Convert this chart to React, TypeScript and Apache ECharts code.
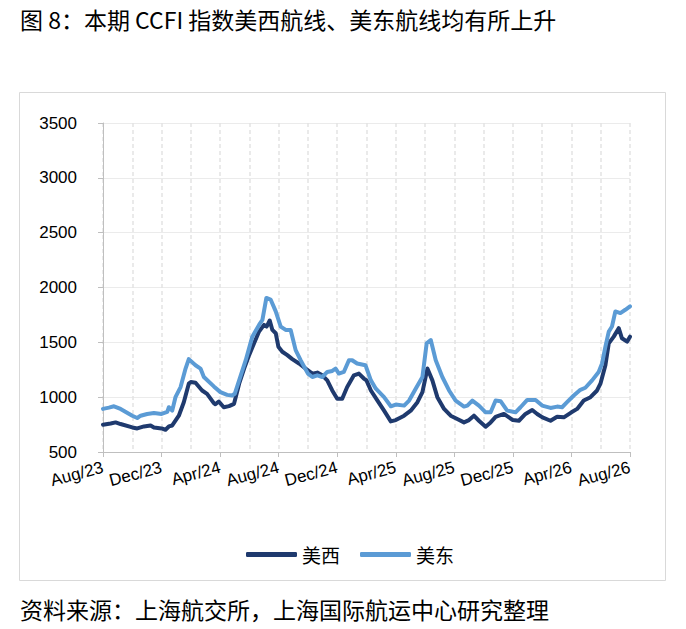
import React, { useEffect, useRef } from "react";
import * as echarts from "echarts";

// months elapsed since 1 Aug 2023
const westMonths = [
  0.0, 0.52, 0.86, 1.2, 2.0, 2.34, 2.8, 3.25, 3.48, 4.0, 4.27, 4.5, 4.73, 5.18, 5.52, 5.86, 6.0, 6.32, 6.77, 7.11,
  7.57, 7.68, 7.91, 8.25, 8.61, 8.95, 9.3, 9.64, 9.98, 10.32, 10.66, 11.0, 11.18, 11.39, 11.57, 11.8, 11.98, 12.25,
  12.59, 12.93, 13.39, 14.0, 14.3, 14.64, 14.98, 15.32, 15.66, 16.0, 16.34, 16.68, 17.14, 17.48, 17.82, 18.0, 18.3,
  18.75, 19.2, 19.66, 20.0, 20.57, 21.02, 21.48, 21.82, 22.16, 22.5, 22.84, 23.3, 23.75, 24.2, 24.66, 25.0, 25.34,
  25.68, 26.14, 26.48, 26.82, 27.05, 27.39, 27.73, 28.0, 28.41, 28.86, 29.32, 29.66, 30.02, 30.57, 31.02, 31.48,
  32.0, 32.39, 32.84, 33.3, 33.75, 33.98, 34.32, 34.55, 34.89, 35.23, 35.45, 35.8, 36.0,
];
const westValues = [
  749, 760, 770, 755, 724, 715, 733, 742, 724, 715, 703, 733, 742, 831, 954, 1123, 1138, 1132, 1061, 1030,
  945, 935, 960, 908, 918, 939, 1123, 1261, 1383, 1491, 1598, 1659, 1644, 1699, 1613, 1583, 1460, 1414,
  1383, 1347, 1307, 1245, 1215, 1224, 1199, 1153, 1061, 985, 985, 1092, 1199, 1215, 1170, 1153, 1061,
  969, 877, 779, 791, 831, 877, 954, 1046, 1261, 1153, 1000, 893, 831, 801, 770, 791, 831,
  785, 730, 770, 820, 831, 847, 816, 791, 785, 847, 883, 847, 816, 785, 822, 816,
  862, 893, 969, 1000, 1061, 1123, 1291, 1491, 1552, 1629, 1537, 1506, 1552,
];

const eastMonths = [
  0.0, 0.4, 0.75, 1.2, 2.0, 2.34, 2.57, 3.02, 3.48, 4.0, 4.39, 4.5, 4.73, 4.95, 5.3, 5.64, 5.86, 6.32, 6.66, 6.89,
  7.57, 8.02, 8.48, 8.82, 9.0, 9.3, 9.75, 10.2, 10.66, 10.89, 11.16, 11.45, 11.8, 12.14, 12.48, 12.82, 13.16, 13.5,
  14.0, 14.3, 14.64, 14.98, 15.32, 15.66, 15.89, 16.11, 16.45, 16.8, 17.02, 17.36, 17.93, 18.3, 18.64, 19.2, 19.66,
  20.0, 20.57, 20.91, 21.36, 21.82, 22.11, 22.39, 22.73, 23.18, 23.64, 24.09, 24.66, 24.89, 25.23, 25.68, 26.14,
  26.48, 26.82, 27.16, 27.61, 28.18, 28.52, 28.98, 29.55, 30.0, 30.57, 31.02, 31.36, 31.7, 32.16, 32.61, 32.95,
  33.41, 33.86, 34.09, 34.32, 34.55, 34.77, 35.0, 35.34, 35.68, 36.0,
];
const eastValues = [
  893, 905, 917, 893, 831, 810, 831, 847, 856, 847, 865, 908, 877, 1000, 1092, 1261, 1347, 1291, 1261, 1184,
  1098, 1046, 1021, 1015, 1031, 1153, 1337, 1552, 1659, 1705, 1905, 1890, 1782, 1644, 1613, 1613, 1429, 1337,
  1215, 1184, 1199, 1184, 1230, 1239, 1261, 1215, 1230, 1337, 1337, 1307, 1291, 1153, 1077, 1000, 917,
  933, 923, 969, 1077, 1184, 1491, 1521, 1337, 1184, 1061, 969, 914, 923, 969, 923, 862,
  862, 969, 963, 877, 862, 908, 975, 975, 923, 902, 914, 908, 954, 1015, 1067, 1086,
  1153, 1230, 1307, 1460, 1598, 1644, 1782, 1767, 1797, 1828,
];

const xTickLabels = ["Aug/23", "Dec/23", "Apr/24", "Aug/24", "Dec/24", "Apr/25", "Aug/25", "Dec/25", "Apr/26", "Aug/26"];
const seriesNames = ["美西", "美东"];
const titleText = "图 8：本期 CCFI 指数美西航线、美东航线均有所上升";
const sourceText = "资料来源：上海航交所，上海国际航运中心研究整理";

const CJK = '"Noto Sans CJK SC", "Noto Sans", sans-serif';
const LATIN = '"Liberation Sans", Arial, sans-serif';

export default function App() {
  const ref = useRef<HTMLDivElement>(null);
  useEffect(() => {
    if (!ref.current) return;
    const chart = echarts.init(ref.current, null, { renderer: "svg" });
    chart.setOption({
      animation: false,
      backgroundColor: "#ffffff",
      graphic: [
        {
          type: "rect",
          shape: { x: 19.5, y: 92.5, width: 646, height: 488 },
          style: { fill: "none", stroke: "#d9d9d9", lineWidth: 1 },
          silent: true,
        },
        {
          type: "text",
          style: { text: titleText, x: 20, y: 19, verticalAlign: "middle", fontSize: 23, fontFamily: CJK, fill: "#000" },
        },
        {
          type: "text",
          style: { text: sourceText, x: 20, y: 609, verticalAlign: "middle", fontSize: 23, fontFamily: CJK, fill: "#000" },
        },
      ],
      grid: { left: 103, right: 56, top: 123, bottom: 177, containLabel: false },
      legend: {
        data: seriesNames,
        left: 241,
        top: 540,
        icon: "roundRect",
        itemWidth: 51,
        itemHeight: 5,
        itemGap: 20,
        textStyle: { fontSize: 19, fontFamily: CJK, color: "#000" },
      },
      xAxis: [
        {
          type: "value",
          min: 0,
          max: 36,
          interval: 2,
          position: "bottom",
          axisLine: { show: false },
          axisTick: { show: false },
          axisLabel: { show: false },
          splitLine: { show: true, lineStyle: { color: "#e3e3e3", width: 1.5, type: [4, 3] } },
        },
        {
          type: "value",
          min: 0,
          max: 36,
          interval: 4,
          position: "bottom",
          axisLine: { show: true, lineStyle: { color: "#bfbfbf", width: 1 } },
          axisTick: { show: true, length: 5, lineStyle: { color: "#bfbfbf" } },
          splitLine: { show: false },
          axisLabel: {
            rotate: 15,
            margin: 15,
            fontSize: 17,
            fontFamily: LATIN,
            color: "#000",
            formatter: (v: number) => xTickLabels[Math.round(v / 4)] ?? "",
          },
        },
      ],
      yAxis: {
        type: "value",
        min: 500,
        max: 3500,
        interval: 500,
        axisLine: { show: true, lineStyle: { color: "#bfbfbf", width: 1 } },
        axisTick: { show: true, length: 5, lineStyle: { color: "#bfbfbf" } },
        axisLabel: { margin: 26, fontSize: 17, fontFamily: LATIN, color: "#000", formatter: (v: number) => String(v) },
        splitLine: { show: true, lineStyle: { color: "#ebebeb", width: 1 } },
      },
      series: [
        {
          name: seriesNames[0],
          type: "line",
          xAxisIndex: 0,
          symbol: "none",
          showSymbol: false,
          data: westMonths.map((m, i) => [m, westValues[i]]),
          lineStyle: { color: "#1f3a6e", width: 4, cap: "round", join: "round" },
          itemStyle: { color: "#1f3a6e" },
        },
        {
          name: seriesNames[1],
          type: "line",
          xAxisIndex: 0,
          symbol: "none",
          showSymbol: false,
          data: eastMonths.map((m, i) => [m, eastValues[i]]),
          lineStyle: { color: "#5b9bd5", width: 4, cap: "round", join: "round" },
          itemStyle: { color: "#5b9bd5" },
        },
      ],
    });
    return () => chart.dispose();
  }, []);
  return <div ref={ref} style={{ position: "absolute", left: 0, top: 0, width: 686, height: 629 }} />;
}
